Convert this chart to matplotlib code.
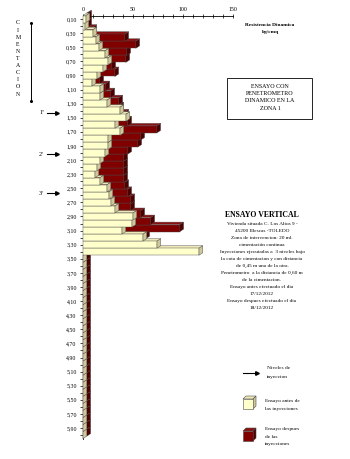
import numpy as np
import matplotlib.pyplot as plt
from matplotlib.patches import Polygon, Rectangle
from matplotlib.lines import Line2D

plt.rcParams['font.family'] = ['Liberation Serif', 'DejaVu Serif']

# profundidad (m) de cada lectura
depth = np.round(np.arange(1, 61) * 0.1, 2)

# resistencia dinamica kg/cmq - ensayo antes de las inyecciones
antes = [3, 2, 10, 13, 16, 22, 25, 20, 14, 9,
         17, 17, 24, 37, 43, 32, 37, 25, 25, 22,
         17, 14, 12, 17, 24, 26, 28, 32, 50, 49,
         39, 60, 74, 116, 0, 0, 0, 0, 0, 0,
         0, 0, 0, 0, 0, 0, 0, 0, 0, 0,
         0, 0, 0, 0, 0, 0, 0, 0, 0, 0]

# ensayo despues de las inyecciones
despues = [1, 1, 6, 38, 49, 40, 39, 25, 28, 13,
           19, 24, 32, 33, 38, 41, 70, 54, 51, 41,
           37, 37, 37, 37, 38, 41, 44, 44, 54, 64,
           93, 59, 55, 0, 0, 0, 0, 0, 0, 0,
           0, 0, 0, 0, 0, 0, 0, 0, 0, 0,
           0, 0, 0, 0, 0, 0, 0, 0, 0, 0]

tick_labels = [("%.2f" % d).replace(".", ",") for d in depth[::2]]
niveles = [("1º", 13.3), ("2º", 19.2), ("3º", 24.7)]  # fila de cada nivel de inyeccion

W, H = 350, 459
fig = plt.figure(figsize=(W / 100, H / 100), dpi=100)


def px(x, y):
    return x / W, 1 - y / H


def flecha(x0, x1, y):
    fig.add_artist(Line2D([x0 / W, (x1 - 2) / W], [1 - y / H] * 2, color='k', lw=0.8, zorder=5))
    fig.add_artist(Line2D([(x1 - 1.5) / W], [1 - y / H], color='k', lw=0, marker='>',
                          markersize=2.6, zorder=5))


ax = fig.add_axes([83 / W, 1 - 438.6 / H, 150 / W, (438.6 - 15.5) / H])
ax.set_xlim(0, 150)
ax.set_ylim(59.5, -0.5)

EC = '#4a4a4a'
DX, DY = 3.8, -0.35


def bar3d(yc, v, x0, yoff, front, side, top, z):
    t = yc - 0.5 + yoff
    b = yc + 0.5 + yoff
    r = x0 + v
    kw = dict(ec=EC, lw=0.3, zorder=z, clip_on=False)
    ax.add_patch(Polygon([(x0, t), (r, t), (r + DX, t + DY), (x0 + DX, t + DY)], fc=top, **kw))
    ax.add_patch(Rectangle((x0, t), v, 1, fc=front, **kw))
    ax.add_patch(Polygon([(r, t), (r, b), (r + DX, b + DY), (r + DX, t + DY)], fc=side, **kw))


z = 1
for i in range(len(depth) - 1, -1, -1):
    bar3d(i, despues[i], DX, DY, '#800000', '#4d0000', '#8c1010', z)
    z += 1
for i in range(len(depth) - 1, -1, -1):
    bar3d(i, antes[i], 0, 0, '#ffffcc', '#cfc89a', '#eee8b8', z)
    z += 1

ax.xaxis.set_ticks_position('top')
ax.set_xticks([0, 50, 100, 150])
ax.set_xticks(np.arange(0, 151, 10), minor=True)
ax.set_yticks(range(0, 60, 2))
ax.set_yticklabels(tick_labels)
ax.set_yticks(range(60), minor=True)
ax.tick_params(axis='x', which='both', direction='inout', length=2.5, width=0.5,
               labelsize=4.2, pad=1.5)
ax.tick_params(axis='y', which='both', direction='out', length=2, width=0.5,
               labelsize=4.2, pad=2.5)
for s in ['right', 'bottom']:
    ax.spines[s].set_visible(False)
for s in ['top', 'left']:
    ax.spines[s].set_linewidth(0.6)
ax.set_facecolor('none')

# CIMENTACION
for k, ch in enumerate("CIMENTACION"):
    fig.text(*px(18, 23 + k * 7.1), ch, fontsize=4.2, ha='center', va='center')
fig.add_artist(Line2D([30.5 / W] * 2, [1 - 23 / H, 1 - 101 / H], color='k', lw=0.7))
fig.add_artist(Line2D([30.5 / W] * 2, [1 - 23 / H, 1 - 101 / H], color='k', lw=0,
                      marker='o', markersize=1.2))

# niveles de inyeccion
for lab, row in niveles:
    yp = 15.5 + (row + 0.5) * 7.05
    fig.text(*px(44, yp), lab, fontsize=4.5, ha='right', va='center')
    flecha(47, 58, yp)

fig.text(*px(270, 25), "Resistencia Dinamica", fontsize=3.9, weight='bold', ha='center', va='center')
fig.text(*px(270, 32), "kg/cmq", fontsize=3.9, weight='bold', ha='center', va='center')

fig.add_artist(Rectangle(px(227, 119), 85 / W, 41 / H, fill=False, ec='k', lw=0.6))
for k, line in enumerate(["ENSAYO CON", "PENETROMETRO", "DINAMICO EN LA", "ZONA 1"]):
    fig.text(*px(270, 86 + k * 7.4), line, fontsize=4.3, ha='center', va='center')

fig.text(*px(262, 215), "ENSAYO VERTICAL", fontsize=5.6, weight='bold', ha='center', va='center')
texto = ["Vivienda situada C. Los Altos 9 -",
         "45200 Illescas -TOLEDO",
         "Zona de intervencion: 20 ml.",
         "cimentación continua",
         "Inyecciones ejecutadas a  3 niveles bajo",
         "la cota de cimentacion y con distancia",
         "de 0,45 m una de la otra.",
         "Penetrometro  a la distancia de 0,60 m",
         "de la cimentacion.",
         "Ensayo antes efectuado el dia",
         "17/12/2012",
         "Ensayo despues efectuado el dia",
         "18/12/2012"]
for k, line in enumerate(texto):
    fig.text(*px(262, 224.3 + k * 7.0), line, fontsize=3.8, ha='center', va='center')

# leyenda
flecha(243, 258, 373)
fig.text(*px(267, 368), "Niveles de", fontsize=3.9, ha='left', va='center')
fig.text(*px(267, 377), "inyeccion", fontsize=3.9, ha='left', va='center')


def cubo(x, y, front, side, top):
    s, d = 10, 3
    pts = lambda p: [px(a, b) for a, b in p]
    kw = dict(ec=EC, lw=0.4)
    fig.add_artist(Polygon(pts([(x, y), (x + s, y), (x + s + d, y - d), (x + d, y - d)]), fc=top, **kw))
    fig.add_artist(Polygon(pts([(x + s, y), (x + s, y + s), (x + s + d, y + s - d), (x + s + d, y - d)]), fc=side, **kw))
    fig.add_artist(Polygon(pts([(x, y), (x + s, y), (x + s, y + s), (x, y + s)]), fc=front, **kw))


cubo(243, 399, '#ffffcc', '#cfc89a', '#eee8b8')
fig.text(*px(265, 401), "Ensayo antes de", fontsize=3.9, ha='left', va='center')
fig.text(*px(265, 409), "las inyecciones", fontsize=3.9, ha='left', va='center')
cubo(243, 431, '#800000', '#4d0000', '#8c1010')
fig.text(*px(265, 429), "Ensayo despues", fontsize=3.9, ha='left', va='center')
fig.text(*px(265, 437), "de las", fontsize=3.9, ha='left', va='center')
fig.text(*px(265, 444), "inyecciones", fontsize=3.9, ha='left', va='center')

fig.savefig('out.png', dpi=100)
